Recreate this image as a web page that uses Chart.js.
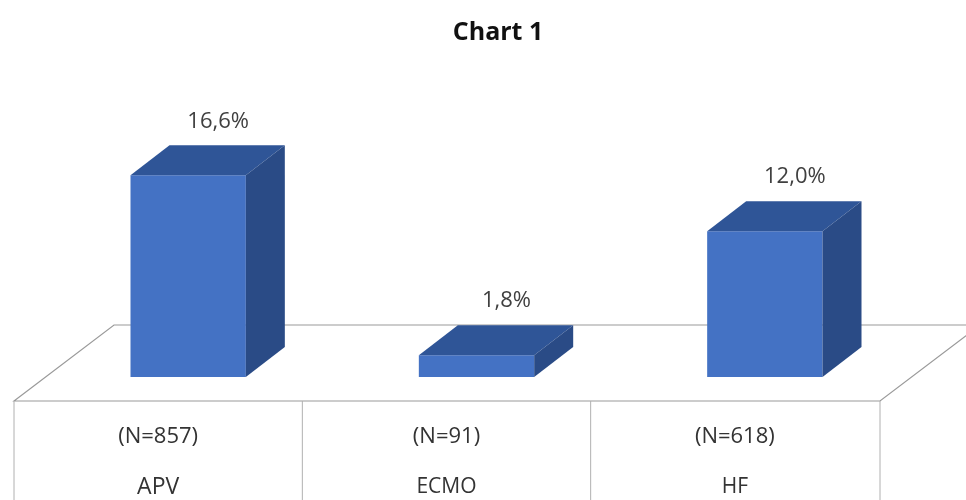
<!DOCTYPE html>
<html>
<head>
<meta charset="utf-8">
<script src="https://cdn.jsdelivr.net/npm/chart.js@4"></script>
<style>
  body { margin: 0; background: #fff; }
  #wrap { width: 966px; height: 500px; position: relative; }
</style>
</head>
<body>
<div id="wrap"><canvas id="chart"></canvas></div>
<script>
const categories = ['APV', 'ECMO', 'HF'];
const counts = [857, 91, 618];
const percentValues = [16.6, 1.8, 12.0];
const chartTitle = 'Chart 1';

const FONT = '"Open Sans", "Noto Sans", sans-serif';
const DEPTH_X = 39, DEPTH_Y = 30;   // bar depth
const SHIFT_X = 30, SHIFT_Y = 24;   // bar front plane -> floor front edge
const FLOOR_X = 100, FLOOR_Y = 76;  // floor depth

// title, floor + label table behind the bars
const floorPlugin = {
    id: 'floor',
    beforeDatasetsDraw(chart) {
        const ctx = chart.ctx;
        const xs = chart.scales.x, ys = chart.scales.y;
        const area = chart.chartArea;
        const frontY = ys.getPixelForValue(0) + SHIFT_Y;
        const backY = frontY - FLOOR_Y;
        const left = area.left - SHIFT_X;
        const right = area.right - SHIFT_X + 1;

        ctx.save();
        ctx.fillStyle = '#111';
        ctx.font = 'bold 25px ' + FONT;
        ctx.textAlign = 'center';
        ctx.textBaseline = 'middle';
        ctx.fillText(chartTitle, 498, 33);

        ctx.beginPath();
        ctx.moveTo(left, frontY);
        ctx.lineTo(left + FLOOR_X, backY);
        ctx.lineTo(right + FLOOR_X, backY);
        ctx.lineTo(right, frontY);
        ctx.closePath();
        ctx.fillStyle = '#ffffff';
        ctx.fill();
        ctx.strokeStyle = '#9a9a9a';
        ctx.lineWidth = 1.2;
        ctx.stroke();

        // table columns under the floor
        ctx.strokeStyle = '#b0b0b0';
        ctx.lineWidth = 1;
        const cols = [left];
        for (let i = 1; i < categories.length; i++) {
            cols.push((xs.getPixelForValue(i - 1) + xs.getPixelForValue(i)) / 2 - SHIFT_X);
        }
        cols.push(right);
        cols.forEach(cx => {
            ctx.beginPath();
            ctx.moveTo(cx, frontY);
            ctx.lineTo(cx, chart.height);
            ctx.stroke();
        });

        // category labels
        ctx.fillStyle = '#333';
        categories.forEach((c, i) => {
            const cx = xs.getPixelForValue(i) - SHIFT_X;
            ctx.font = '22px ' + FONT;
            ctx.fillText('(N=' + counts[i] + ')', cx, frontY + 36);
            ctx.font = (i === 0 ? '23px ' : '21px ') + FONT;
            ctx.fillText(c, cx, frontY + 86);
        });
        ctx.restore();
    }
};

// top and side faces + value labels
const barsPlugin = {
    id: 'bars3d',
    afterDatasetsDraw(chart) {
        const ctx = chart.ctx;
        const meta = chart.getDatasetMeta(0);
        ctx.save();
        meta.data.forEach((bar, i) => {
            const p = bar.getProps(['x', 'y', 'base', 'width'], true);
            const l = p.x - p.width / 2, r = p.x + p.width / 2;
            // top
            ctx.beginPath();
            ctx.moveTo(l, p.y);
            ctx.lineTo(l + DEPTH_X, p.y - DEPTH_Y);
            ctx.lineTo(r + DEPTH_X, p.y - DEPTH_Y);
            ctx.lineTo(r, p.y);
            ctx.closePath();
            ctx.fillStyle = '#2f5597';
            ctx.fill();
            // side
            ctx.beginPath();
            ctx.moveTo(r, p.y);
            ctx.lineTo(r + DEPTH_X, p.y - DEPTH_Y);
            ctx.lineTo(r + DEPTH_X, p.base - DEPTH_Y);
            ctx.lineTo(r, p.base);
            ctx.closePath();
            ctx.fillStyle = '#2a4b86';
            ctx.fill();
            // value label
            ctx.fillStyle = '#404040';
            ctx.font = '22px ' + FONT;
            ctx.textAlign = 'center';
            ctx.textBaseline = 'middle';
            const txt = percentValues[i].toFixed(1).replace('.', ',') + '%';
            ctx.fillText(txt, p.x + 30, p.y - DEPTH_Y - 24);
        });
        ctx.restore();
    }
};

new Chart(document.getElementById('chart'), {
    type: 'bar',
    data: {
        labels: categories,
        datasets: [{
            data: percentValues,
            backgroundColor: '#4472c4',
            borderWidth: 0,
            categoryPercentage: 1,
            barPercentage: 0.4
        }]
    },
    options: {
        responsive: true,
        maintainAspectRatio: false,
        animation: false,
        layout: { padding: { left: 44, right: 57, top: 134, bottom: 123 } },
        scales: {
            x: { display: false },
            y: { display: false, min: 0, max: 20 }
        },
        plugins: {
            legend: { display: false },
            tooltip: { enabled: false },
            title: { display: false }
        }
    },
    plugins: [floorPlugin, barsPlugin]
});
</script>
</body>
</html>
